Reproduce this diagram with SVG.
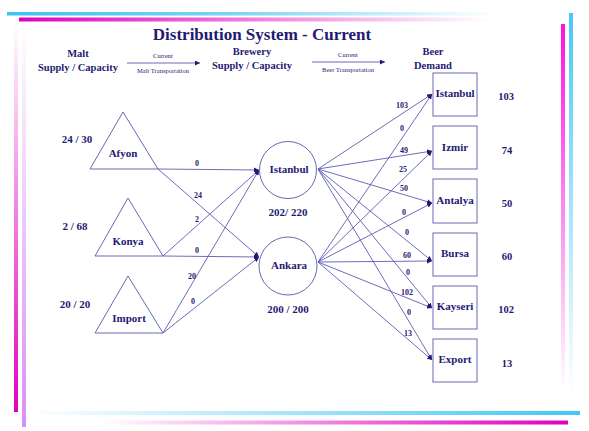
<svg xmlns="http://www.w3.org/2000/svg" width="589" height="431" viewBox="0 0 589 431">
<defs>
<linearGradient id="gH" x1="0" y1="0" x2="1" y2="0"><stop offset="0" stop-color="#3cc3f0"/><stop offset="0.45" stop-color="#3cc3f0" stop-opacity="0.7"/><stop offset="1" stop-color="#3cc3f0" stop-opacity="0"/></linearGradient>
<linearGradient id="gHm" x1="0" y1="0" x2="1" y2="0"><stop offset="0" stop-color="#e000c0"/><stop offset="0.4" stop-color="#e000c0" stop-opacity="0.6"/><stop offset="1" stop-color="#e000c0" stop-opacity="0"/></linearGradient>
<linearGradient id="gLm" x1="0" y1="0" x2="0" y2="1"><stop offset="0" stop-color="#e000c0" stop-opacity="0"/><stop offset="1" stop-color="#e000c0"/></linearGradient>
<linearGradient id="gLv" x1="0" y1="0" x2="0" y2="1"><stop offset="0" stop-color="#d690f5" stop-opacity="0"/><stop offset="1" stop-color="#d690f5"/></linearGradient>
<linearGradient id="gRm" x1="0" y1="0" x2="0" y2="1"><stop offset="0" stop-color="#ff10e0"/><stop offset="1" stop-color="#ff10e0" stop-opacity="0"/></linearGradient>
<linearGradient id="gRc" x1="0" y1="0" x2="0" y2="1"><stop offset="0" stop-color="#48c8f8"/><stop offset="1" stop-color="#48c8f8" stop-opacity="0"/></linearGradient>
<linearGradient id="gBc" x1="0" y1="0" x2="1" y2="0"><stop offset="0" stop-color="#40c8f8" stop-opacity="0"/><stop offset="1" stop-color="#40c8f8"/></linearGradient>
<linearGradient id="gBm" x1="0" y1="0" x2="1" y2="0"><stop offset="0" stop-color="#e000c0" stop-opacity="0"/><stop offset="1" stop-color="#e000c0"/></linearGradient>
<marker id="arr" viewBox="0 0 6 6" refX="6" refY="3" markerWidth="5" markerHeight="5" markerUnits="userSpaceOnUse" orient="auto"><path d="M0,0 L6,3 L0,6 z" fill="#1f1a73"/></marker>
</defs>
<style>
text{font-family:"Liberation Serif","Times New Roman",serif;fill:#1f1a73;font-weight:bold;text-anchor:middle}
.title{font-size:17px}
.hdr{font-size:10.5px}
.tiny{font-size:6.5px;font-weight:normal}
.nl{font-size:11px}
.val{font-size:11px}
.dem{font-size:10.5px}
.el{font-size:8px}
.shape{fill:#ffffff;stroke:#6a68b4;stroke-width:1}
.edge{stroke:#5c5cb0;stroke-width:0.9;fill:none;marker-end:url(#arr)}
</style>
<rect width="589" height="431" fill="#ffffff"/>
<g id="decor">
<rect x="7" y="12" width="490" height="3.5" fill="url(#gH)"/>
<rect x="19" y="17.5" width="470" height="4" fill="url(#gHm)"/>
<rect x="14" y="22" width="4" height="390" fill="url(#gLm)"/>
<rect x="22" y="22" width="4" height="405" fill="url(#gLv)"/>
<rect x="561" y="24" width="4" height="368" fill="url(#gRm)"/>
<rect x="569" y="13" width="4" height="382" fill="url(#gRc)"/>
<rect x="30" y="411" width="550" height="4" fill="url(#gBc)"/>
<rect x="100" y="420.5" width="468" height="4" fill="url(#gBm)"/>
</g>
<text class="title" x="262" y="40">Distribution System - Current</text>
<g id="headers">
<text class="hdr" x="78" y="57">Malt</text>
<text class="hdr" x="78" y="71">Supply / Capacity</text>
<text class="tiny" x="163" y="58">Current</text>
<line class="edge" x1="127" y1="63" x2="200" y2="63"/>
<text class="tiny" x="163" y="73">Malt Transportation</text>
<text class="hdr" x="252" y="55">Brewery</text>
<text class="hdr" x="252" y="69">Supply / Capacity</text>
<text class="tiny" x="348" y="57">Current</text>
<line class="edge" x1="312" y1="62" x2="385" y2="62"/>
<text class="tiny" x="348" y="72">Beer Transportation</text>
<text class="hdr" x="433" y="55">Beer</text>
<text class="hdr" x="433" y="69">Demand</text>
</g>
<g id="connectors">
<line class="edge" x1="158" y1="169" x2="259" y2="170"/>
<line class="edge" x1="158" y1="169" x2="259" y2="257"/>
<line class="edge" x1="163" y1="256" x2="259" y2="170"/>
<line class="edge" x1="163" y1="256" x2="259" y2="257"/>
<line class="edge" x1="163" y1="333" x2="259" y2="170"/>
<line class="edge" x1="163" y1="333" x2="259" y2="257"/>
<line class="edge" x1="318" y1="169" x2="432" y2="94"/>
<line class="edge" x1="318" y1="169" x2="432" y2="151"/>
<line class="edge" x1="318" y1="169" x2="432" y2="203"/>
<line class="edge" x1="318" y1="169" x2="432" y2="261"/>
<line class="edge" x1="318" y1="169" x2="432" y2="308"/>
<line class="edge" x1="318" y1="169" x2="432" y2="360"/>
<line class="edge" x1="318" y1="262" x2="432" y2="94"/>
<line class="edge" x1="318" y1="262" x2="432" y2="151"/>
<line class="edge" x1="318" y1="262" x2="432" y2="203"/>
<line class="edge" x1="318" y1="262" x2="432" y2="261"/>
<line class="edge" x1="318" y1="262" x2="432" y2="308"/>
<line class="edge" x1="318" y1="262" x2="432" y2="360"/>
<text class="el" x="197" y="166">0</text>
<text class="el" x="198" y="198">24</text>
<text class="el" x="197" y="222">2</text>
<text class="el" x="197" y="253">0</text>
<text class="el" x="192" y="279">20</text>
<text class="el" x="193" y="304">0</text>
<text class="el" x="402" y="108">103</text>
<text class="el" x="402" y="131">0</text>
<text class="el" x="404" y="153">49</text>
<text class="el" x="403" y="172">25</text>
<text class="el" x="404" y="191">50</text>
<text class="el" x="404" y="215">0</text>
<text class="el" x="407" y="235">0</text>
<text class="el" x="407" y="258">60</text>
<text class="el" x="408" y="275">0</text>
<text class="el" x="407" y="295">102</text>
<text class="el" x="409" y="315">0</text>
<text class="el" x="408" y="336">13</text>
</g>
<g id="afyon">
<polygon class="shape" points="123,112 158,169 90,169"/>
<text class="nl" x="123" y="157">Afyon</text>
<text class="val" x="77" y="143">24 / 30</text>
</g>
<g id="konya">
<polygon class="shape" points="128,198 163,256 95,256"/>
<text class="nl" x="128" y="245">Konya</text>
<text class="val" x="75" y="230">2 / 68</text>
</g>
<g id="import">
<polygon class="shape" points="128,276 163,333 95,333"/>
<text class="nl" x="129" y="322">Import</text>
<text class="val" x="75" y="308">20 / 20</text>
</g>
<g id="brewery-istanbul">
<circle class="shape" cx="288" cy="170" r="28.5"/>
<text class="nl" x="289" y="173">Istanbul</text>
<text class="val" x="288" y="216">202/ 220</text>
</g>
<g id="brewery-ankara">
<circle class="shape" cx="288" cy="266" r="29"/>
<text class="nl" x="289" y="269">Ankara</text>
<text class="val" x="288" y="313">200 / 200</text>
</g>
<g id="demand-istanbul">
<rect class="shape" x="433" y="73" width="44" height="43"/>
<text class="nl" x="455" y="97">Istanbul</text>
<text class="dem" x="506" y="100">103</text>
</g>
<g id="demand-izmir">
<rect class="shape" x="433" y="126" width="44" height="43"/>
<text class="nl" x="455" y="151">Izmir</text>
<text class="dem" x="507" y="154">74</text>
</g>
<g id="demand-antalya">
<rect class="shape" x="433" y="179" width="44" height="44"/>
<text class="nl" x="455" y="204">Antalya</text>
<text class="dem" x="507" y="207">50</text>
</g>
<g id="demand-bursa">
<rect class="shape" x="433" y="233" width="44" height="43"/>
<text class="nl" x="455" y="257">Bursa</text>
<text class="dem" x="507" y="260">60</text>
</g>
<g id="demand-kayseri">
<rect class="shape" x="433" y="286" width="44" height="43"/>
<text class="nl" x="455" y="310">Kayseri</text>
<text class="dem" x="506" y="313">102</text>
</g>
<g id="demand-export">
<rect class="shape" x="433" y="339" width="44" height="43"/>
<text class="nl" x="455" y="363">Export</text>
<text class="dem" x="507" y="367">13</text>
</g>
</svg>
